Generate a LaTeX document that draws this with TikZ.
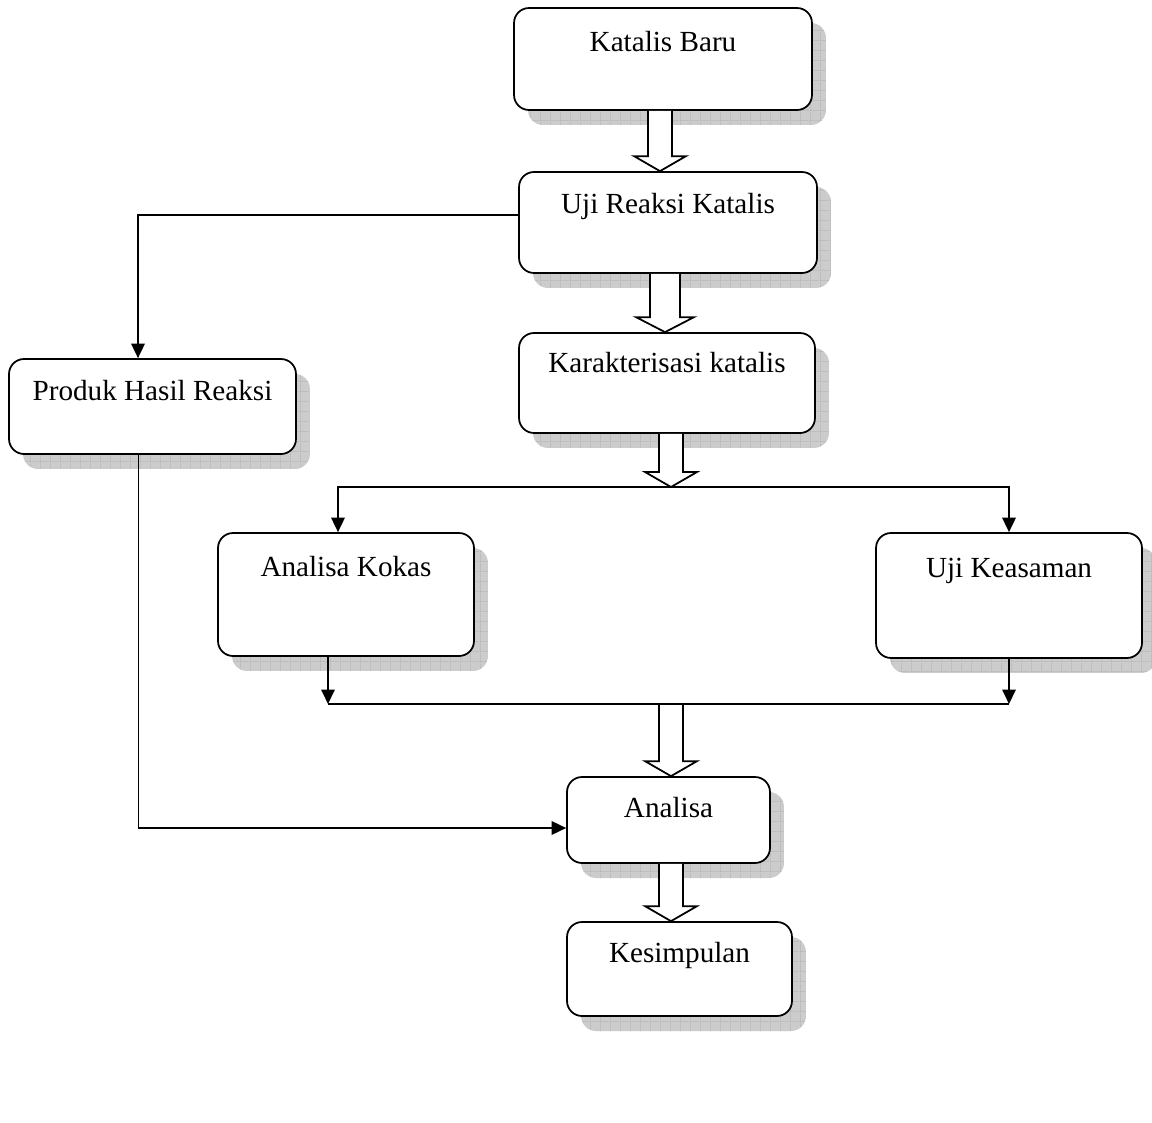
\documentclass[tikz,border=0pt]{standalone}
\usepackage{fontspec}
\setmainfont{Liberation Serif}
\usetikzlibrary{arrows.meta}
\usetikzlibrary{calc}
\usetikzlibrary{shadows}
\usetikzlibrary{patterns}
\pgfdeclarepatternformonly{kisi}{\pgfpointorigin}{\pgfpoint{5.7pt}{5.7pt}}{\pgfpoint{5.7pt}{5.7pt}}{%
  \pgfsetlinewidth{0.5pt}
  \pgfpathmoveto{\pgfpoint{0pt}{0pt}}\pgfpathlineto{\pgfpoint{5.7pt}{0pt}}
  \pgfpathmoveto{\pgfpoint{0pt}{0pt}}\pgfpathlineto{\pgfpoint{0pt}{5.7pt}}
  \pgfusepath{stroke}}
\tikzset{kotak/.style = {draw, line width = 1pt, rounded corners = 0.3cm, fill = white,
    inner sep = 0, font = \fontsize{16.6}{20}\selectfont,
    drop shadow = {shadow xshift = 0.28cm, shadow yshift = -0.3cm, fill = gray!40, opacity = 1,
      postaction = {pattern = kisi, pattern color = gray!70}}}}
\tikzset{garis/.style = {line width = 1pt}}
\tikzset{panah/.style = {garis, -{Triangle[length = 0.29cm, width = 0.27cm]}}}
\tikzset{blok/.style = {draw, line width = 1pt, fill = white, line join = miter}}
% hollow block arrow: from, to, x offset, half shaft width
\newcommand{\panahblok}[4]{%
  \draw [blok] ($(#1 -| #2)+(#3-#4,0)$) -- ($(#2)+(#3-#4,-15)$) -- ($(#2)+(#3-#4-14,-15)$)
    -- ($(#2)+(#3,0)$) -- ($(#2)+(#3+#4+14,-15)$) -- ($(#2)+(#3+#4,-15)$)
    -- ($(#1 -| #2)+(#3+#4,0)$);
}

\begin{document}
\begin{tikzpicture}[x = 0.02cm, y = -0.02cm]
  \useasboundingbox (0, 0) rectangle (1152, 1122);

  \node [kotak, minimum width = 5.96cm, text height = 0.88cm, text depth = 1.16cm] (baru) at (663, 59) {Katalis Baru};
  \node [kotak, minimum width = 5.96cm, text height = 0.82cm, text depth = 1.20cm] (uji) at (668, 222.5) {Uji Reaksi Katalis};
  \node [kotak, minimum width = 5.92cm, text height = 0.78cm, text depth = 1.22cm] (karak) at (667, 383) {Karakterisasi katalis};
  \node [kotak, minimum width = 5.74cm, text height = 0.82cm, text depth = 1.08cm] (produk) at (152.5, 406.5) {Produk Hasil Reaksi};
  \node [kotak, minimum width = 5.12cm, text height = 0.86cm, text depth = 1.60cm] (kokas) at (346, 594.5) {Analisa Kokas};
  \node [kotak, minimum width = 5.32cm, text height = 0.88cm, text depth = 1.62cm] (asam) at (1009, 595.5) {Uji Keasaman};
  \node [kotak, minimum width = 4.06cm, text height = 0.80cm, text depth = 0.92cm] (analisa) at (668.5, 820) {Analisa};
  \node [kotak, minimum width = 4.50cm, text height = 0.80cm, text depth = 1.08cm] (simpul) at (679.5, 969) {Kesimpulan};

  \coordinate (bagi) at (671, 487);
  \coordinate (gabung) at (671, 704);

  % block arrows
  \panahblok{baru.south}{uji.north}{-8}{12}
  \panahblok{uji.south}{karak.north}{-2}{15}
  \panahblok{karak.south}{bagi}{0}{12}
  \panahblok{gabung}{analisa.north}{2.5}{12}
  \panahblok{analisa.south}{simpul.north}{-8.5}{12}

  % thin connectors
  \draw [panah] ([yshift = 0.15cm]uji.west) -| ([xshift = -0.29cm]produk.north);
  \draw [panah] ([xshift = -0.28cm]produk.south) |- ([yshift = -0.16cm]analisa.west);
  \draw [panah] (bagi) -| ([xshift = -0.16cm]kokas.north);
  \draw [panah] (bagi) -| (asam.north);
  \draw [panah] ([xshift = -0.36cm]kokas.south) -- ([xshift = -0.36cm]kokas.south |- gabung);
  \draw [panah] (asam.south) -- (asam.south |- gabung);
  \draw [garis] ([xshift = -0.36cm]kokas.south |- gabung) -- (asam.south |- gabung);
\end{tikzpicture}
\end{document}
